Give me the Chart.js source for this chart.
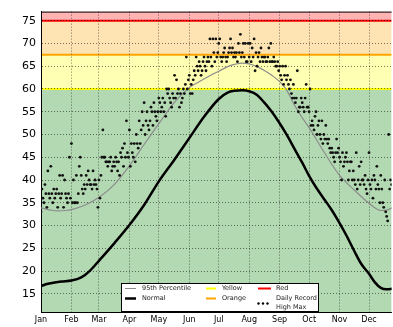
<!DOCTYPE html>
<html>
<head>
<meta charset="utf-8">
<script src="https://cdn.jsdelivr.net/npm/chart.js@4.4.1/dist/chart.umd.min.js"></script>
<style>
  body { margin: 0; background: #fff; }
</style>
</head>
<body>
<canvas id="myChart" width="393" height="327"></canvas>
<script>
var monthLabels = ["Jan", "Feb", "Mar", "Apr", "May", "Jun", "Jul", "Aug", "Sep", "Oct", "Nov", "Dec"];
var monthStarts = [0, 31, 59, 90, 120, 151, 181, 212, 243, 273, 304, 334];
var yTicks = [15, 20, 25, 30, 35, 40, 45, 50, 55, 60, 65, 70, 75];

// normal curve (day of year, value)
var normalDays = [0, 7, 14, 21, 31, 41, 50, 60, 75, 90, 105, 120, 136, 151, 166, 181, 190, 197, 205, 212, 220, 227, 235, 242, 250, 258, 266, 273, 280, 288, 296, 303, 311, 319, 326, 334, 340, 346, 352, 358];
var normalVals = [16.7, 17.2, 17.5, 17.7, 17.9, 18.6, 20.1, 22.5, 26.2, 30.1, 34.5, 39.7, 44.5, 49.2, 53.9, 57.8, 59.2, 59.6, 59.7, 59.5, 58.7, 57.1, 55.0, 52.8, 50.0, 46.9, 43.8, 40.9, 38.4, 35.9, 33.4, 30.9, 27.8, 24.4, 21.6, 19.4, 17.5, 16.3, 16.0, 16.1];

// 95th percentile curve
var pctDays = [0, 10, 17, 25, 31, 45, 60, 75, 90, 105, 120, 136, 151, 161, 171, 181, 190, 197, 205, 212, 220, 227, 235, 243, 250, 258, 265, 273, 288, 303, 319, 334, 346, 352, 358];
var pctVals = [33.9, 33.4, 33.2, 33.3, 33.5, 34.5, 36.3, 39.1, 43.1, 47.8, 52.4, 57.1, 60.3, 61.6, 62.8, 63.9, 64.9, 65.4, 65.7, 65.5, 64.9, 64.1, 63.0, 61.6, 59.8, 56.5, 54.0, 51.5, 46.2, 41.3, 37.8, 34.9, 33.3, 33.4, 33.9];

// daily record high max, one per day starting Jan 1
var recordHighs = [
  33, 38, 36, 35, 39, 37, 34, 42, 37, 36, 43, 37, 35, 38, 36, 37, 38, 34, 37, 41, 36, 37, 41, 34, 40, 37, 36, 35, 37, 45, 36,
  48, 35, 40, 35, 35, 41, 35, 37, 43, 45, 41, 38, 37, 39, 38, 41, 39, 42, 40, 39, 39, 38, 42, 39, 40, 39, 38, 34,
  40, 36, 41, 45, 51, 45, 45, 44, 44, 43, 44, 44, 45, 42, 43, 44, 43, 45, 44, 42, 44, 41, 46, 45, 47, 43, 48, 45, 53, 46, 45,
  51, 43, 48, 46, 45, 48, 44, 50, 48, 47, 53, 48, 51, 55, 52, 57, 50, 53, 55, 52, 51, 53, 56, 55, 52, 57, 55, 54, 53, 55,
  58, 57, 55, 56, 58, 55, 57, 54, 60, 59, 60, 58, 57, 56, 59, 58, 63, 58, 62, 59, 60, 56, 59, 57, 58, 60, 59, 61, 67, 60, 62,
  63, 59, 61, 59, 62, 64, 63, 67, 65, 64, 66, 65, 63, 64, 66, 67, 65, 64, 66, 67, 66, 71, 67, 65, 71, 68, 66, 71, 67, 68,
  70, 71, 67, 66, 67, 68, 69, 67, 66, 67, 68, 69, 71, 68, 69, 67, 68, 67, 68, 66, 70, 68, 72, 67, 68, 70, 67, 70, 66, 66, 70,
  67, 70, 66, 69, 67, 71, 64, 68, 65, 67, 68, 66, 69, 67, 66, 67, 67, 66, 66, 67, 69, 66, 70, 66, 66, 67, 66, 65, 65, 66, 64,
  65, 63, 62, 65, 61, 63, 65, 62, 63, 61, 60, 62, 59, 58, 61, 58, 57, 58, 64, 55, 56, 56, 58, 57, 56, 55, 58, 61, 56, 56,
  55, 60, 52, 53, 52, 51, 54, 55, 50, 52, 53, 50, 49, 53, 48, 50, 49, 52, 49, 48, 49, 47, 46, 47, 46, 45, 44, 46, 49, 46, 47,
  45, 44, 40, 46, 43, 44, 45, 46, 44, 40, 42, 44, 44, 40, 42, 40, 39, 46, 38, 40, 43, 39, 44, 40, 40, 39, 41, 38, 37, 40,
  46, 39, 38, 40, 36, 41, 40, 38, 43, 39, 38, 35, 41, 38, 35, 34, 40, 33, 32, 31, 50, 38, 40, 39
];

var bands = [
  { from: "min", to: 60, color: "#b3d9b3" },
  { from: 60, to: 67.5, color: "#ffffb3" },
  { from: 67.5, to: 75, color: "#ffe4b3" },
  { from: 75, to: "max", color: "#ffb3b3" }
];
var thresholds = [
  { value: 60, color: "#ffff00" },
  { value: 67.5, color: "#ffa500" },
  { value: 75, color: "#ff0000" }
];

function toPoints(xs, ys) {
  return xs.map(function (x, i) { return { x: x, y: ys[i] }; });
}

var bandsPlugin = {
  id: "bands",
  beforeDraw: function (chart) {
    var ctx = chart.ctx;
    var a = chart.chartArea;
    var y = chart.scales.y;
    ctx.save();
    ctx.beginPath();
    ctx.rect(a.left, a.top, a.right - a.left, a.bottom - a.top);
    ctx.clip();
    bands.forEach(function (b) {
      var lo = b.from === "min" ? y.min : b.from;
      var hi = b.to === "max" ? y.max : b.to;
      var top = y.getPixelForValue(hi);
      var bot = y.getPixelForValue(lo);
      ctx.fillStyle = b.color;
      ctx.fillRect(a.left, top, a.right - a.left, bot - top);
    });
    thresholds.forEach(function (t) {
      var py = y.getPixelForValue(t.value);
      ctx.strokeStyle = t.color;
      ctx.lineWidth = 2;
      ctx.beginPath();
      ctx.moveTo(a.left, py);
      ctx.lineTo(a.right, py);
      ctx.stroke();
    });
    ctx.restore();
  },
  afterDraw: function (chart) {
    var ctx = chart.ctx;
    var a = chart.chartArea;
    ctx.save();
    // top spine
    ctx.strokeStyle = "#000";
    ctx.lineWidth = 1;
    ctx.beginPath();
    ctx.moveTo(a.left, a.top + 0.5);
    ctx.lineTo(a.right, a.top + 0.5);
    ctx.stroke();

    // legend box
    var lx = 121, ly = a.bottom - 29, lw = 198, lh = 29;
    ctx.fillStyle = "#fff";
    ctx.fillRect(lx, ly, lw, lh);
    ctx.strokeStyle = "#000";
    ctx.lineWidth = 1;
    ctx.strokeRect(lx + 0.5, ly + 0.5, lw - 1, lh - 1);

    var r1 = ly + 5.5, r2 = ly + 15.5;
    function seg(x0, x1, yy, color, w) {
      ctx.strokeStyle = color;
      ctx.lineWidth = w;
      ctx.beginPath();
      ctx.moveTo(x0, yy);
      ctx.lineTo(x1, yy);
      ctx.stroke();
    }
    seg(125, 136, r1, "#8c8c8c", 1);
    seg(125, 136, r2, "#000", 2.5);
    seg(206, 216, r1, "#ffff00", 2);
    seg(206, 216, r2, "#ffa500", 2);
    seg(258, 271, r1, "#ff0000", 2);
    ctx.fillStyle = "#000";
    [258.5, 263, 267.5].forEach(function (dx) {
      ctx.beginPath();
      ctx.arc(dx, r2 + 5, 1.2, 0, Math.PI * 2);
      ctx.fill();
    });

    ctx.fillStyle = "#222";
    ctx.font = "6.5px 'DejaVu Sans'";
    ctx.textBaseline = "middle";
    ctx.textAlign = "left";
    ctx.fillText("95th Percentile", 142, r1);
    ctx.fillText("Normal", 142, r2);
    ctx.fillText("Yellow", 222, r1);
    ctx.fillText("Orange", 222, r2);
    ctx.fillText("Red", 276, r1);
    ctx.fillText("Daily Record", 276, r2);
    ctx.fillText("High Max", 276, r2 + 9);
    ctx.restore();
  }
};

var gridOpts = {
  color: "rgba(0,0,0,0.65)",
  lineWidth: 0.8,
  drawTicks: false
};

var config = {
  type: "scatter",
  data: {
    datasets: [
      {
        label: "Daily Record High Max",
        data: recordHighs.map(function (v, i) { return { x: i, y: v }; }),
        backgroundColor: "#111",
        borderWidth: 0,
        pointRadius: 1.4,
        pointHoverRadius: 1.4,
        order: 0
      },
      {
        type: "line",
        label: "Normal",
        data: toPoints(normalDays, normalVals),
        borderColor: "#000",
        borderWidth: 2.5,
        pointRadius: 0,
        cubicInterpolationMode: "monotone",
        fill: false,
        order: 1
      },
      {
        type: "line",
        label: "95th Percentile",
        data: toPoints(pctDays, pctVals),
        borderColor: "#8c8c8c",
        borderWidth: 1.2,
        pointRadius: 0,
        cubicInterpolationMode: "monotone",
        fill: false,
        order: 2
      }
    ]
  },
  options: {
    responsive: false,
    devicePixelRatio: 1,
    animation: false,
    layout: { padding: { top: 5, left: 0, right: 0, bottom: 0 } },
    plugins: {
      legend: { display: false },
      tooltip: { enabled: false }
    },
    scales: {
      x: {
        type: "linear",
        min: 0,
        max: 357,
        afterBuildTicks: function (s) {
          s.ticks = monthStarts.map(function (d) { return { value: d }; });
        },
        afterFit: function (s) { s.height = 15; },
        ticks: {
          autoSkip: false,
          maxRotation: 0,
          padding: 3,
          color: "#000",
          font: { family: "'DejaVu Sans'", size: 8 },
          callback: function (v) { return monthLabels[monthStarts.indexOf(v)]; }
        },
        grid: gridOpts,
        border: { display: true, color: "#000", width: 1, dash: [1, 2] }
      },
      y: {
        min: 11,
        max: 77,
        afterBuildTicks: function (s) {
          s.ticks = yTicks.map(function (v) { return { value: v }; });
        },
        afterFit: function (s) { s.width = 41; },
        ticks: {
          padding: 5,
          color: "#000",
          font: { family: "'DejaVu Sans'", size: 11 }
        },
        grid: gridOpts,
        border: { display: true, color: "#000", width: 1, dash: [1, 2] }
      }
    }
  },
  plugins: [bandsPlugin]
};

var myChart = new Chart(document.getElementById("myChart"), config);
</script>
</body>
</html>
